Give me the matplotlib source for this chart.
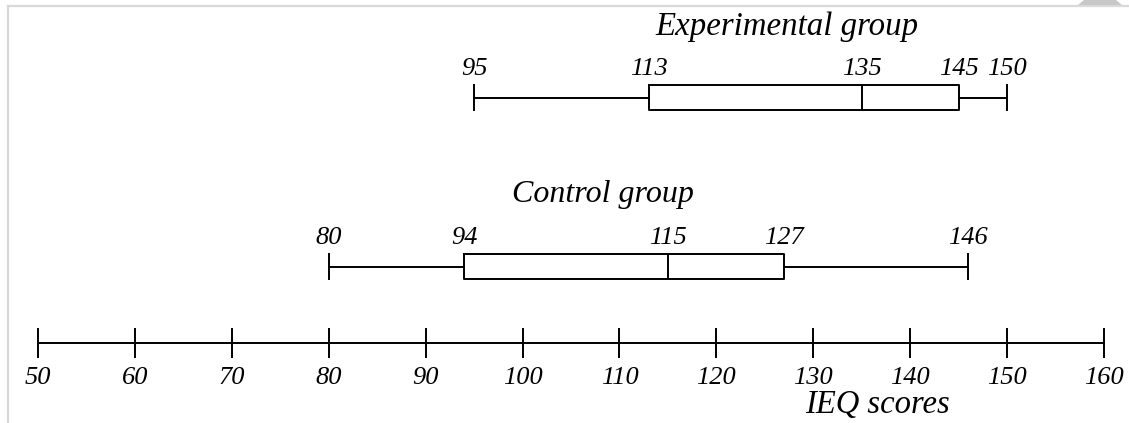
import matplotlib
matplotlib.use("Agg")
import matplotlib.pyplot as plt
from matplotlib.lines import Line2D
from matplotlib.patches import Polygon

plt.rcParams["font.family"] = ["Liberation Serif", "DejaVu Serif"]
plt.rcParams["font.style"] = "italic"

# five-number summaries
groups = ["Experimental group", "Control group"]
mins = [95, 80]
q1s = [113, 94]
medians = [135, 115]
q3s = [145, 127]
maxs = [150, 146]
ticks = list(range(50, 161, 10))
xlabel = "IEQ scores"

W, H = 1129, 423
fig = plt.figure(figsize=(W / 100, H / 100), dpi=100)
# x in data units, y in pixel rows (top = 0)
ax = fig.add_axes([38 / W, 0, 1066 / W, 1])
ax.set_xlim(50, 160)
ax.set_ylim(H, 0)

rows = [98, 267]
stats = []
for g, lo, a, m, b, hi in zip(groups, mins, q1s, medians, q3s, maxs):
    stats.append({"label": g, "whislo": lo, "q1": a, "med": m, "q3": b, "whishi": hi})

style = dict(color="black", linewidth=1.4)
ax.bxp(stats, positions=rows, widths=25, capwidths=25, orientation="horizontal",
       showfliers=False, boxprops=style, whiskerprops=style, capprops=style,
       medianprops=style, manage_ticks=False)

# value labels above each box
for row, s in zip(rows, stats):
    for k in ["whislo", "q1", "med", "q3", "whishi"]:
        ax.text(s[k], row - 23, str(s[k]), ha="center", va="baseline", fontsize=19)

ax.text(127.3, 35, groups[0], ha="center", va="baseline", fontsize=23.7)
ax.text(108.3, 202, groups[1], ha="center", va="baseline", fontsize=23)

# number line as the x axis
for side in ["top", "left", "right"]:
    ax.spines[side].set_visible(False)
ax.spines["bottom"].set_position(("data", 343))
ax.spines["bottom"].set_linewidth(1.4)
ax.set_yticks([])
ax.set_xticks(ticks)
ax.tick_params(axis="x", direction="inout", length=22, width=1.4, labelsize=19, pad=6)
ax.text(136.6, 413, xlabel, ha="center", va="baseline", fontsize=23.5)

# grey frame of the screenshot
fig.add_artist(Line2D([8 / W, 1], [1 - 6 / H, 1 - 6 / H], color="#d9d9d9", lw=1.6))
fig.add_artist(Line2D([8 / W, 8 / W], [0, 1 - 6 / H], color="#d9d9d9", lw=1.6))
fig.add_artist(Polygon([[1078 / W, 1 - 5 / H], [1122 / W, 1 - 5 / H],
                        [1116 / W, 1], [1084 / W, 1]], closed=True,
                       color="#c8c8c8", lw=0))

fig.savefig("out.png", dpi=100)
